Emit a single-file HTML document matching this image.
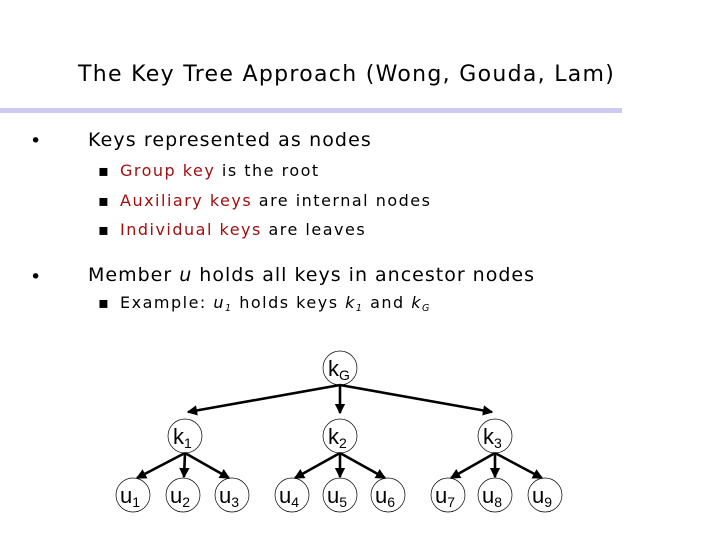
<!DOCTYPE html>
<html><head><meta charset="utf-8"><style>
body{margin:0;width:720px;height:540px;background:#fff;position:relative;overflow:hidden;font-family:"DejaVu Sans","Liberation Sans",sans-serif;color:#000}
.t{position:absolute;white-space:nowrap}
.r{color:#a01010}
sub{font-size:60%;vertical-align:-3px}
</style></head><body>
<div class="t" style="left:78px;top:62px;font-size:22px;letter-spacing:1.3px">The Key Tree Approach (Wong, Gouda, Lam)</div>
<div style="position:absolute;left:0;top:108px;width:622px;height:5px;background:#cacaf2"></div>
<div class="t" style="left:30px;top:130px;font-size:19px">•</div>
<div class="t" style="left:88px;top:129px;font-size:19px;letter-spacing:1.1px">Keys represented as nodes</div>
<div class="t" style="left:98px;top:161px;font-size:16px">▪</div>
<div class="t" style="left:120px;top:161px;font-size:16px;letter-spacing:1.5px"><span class="r">Group key</span> is the root</div>
<div class="t" style="left:98px;top:191px;font-size:16px">▪</div>
<div class="t" style="left:120px;top:191px;font-size:16px;letter-spacing:1.5px"><span class="r">Auxiliary keys</span> are internal nodes</div>
<div class="t" style="left:98px;top:220px;font-size:16px">▪</div>
<div class="t" style="left:120px;top:220px;font-size:16px;letter-spacing:1.5px"><span class="r">Individual keys</span> are leaves</div>
<div class="t" style="left:30px;top:266px;font-size:19px">•</div>
<div class="t" style="left:88px;top:264px;font-size:19px;letter-spacing:1px">Member <i>u</i> holds all keys in ancestor nodes</div>
<div class="t" style="left:98px;top:293px;font-size:16px">▪</div>
<div class="t" style="left:120px;top:293px;font-size:16px;letter-spacing:1.5px">Example: <i>u<sub>1</sub></i> holds keys <i>k<sub>1</sub></i> and <i>k<sub>G</sub></i></div>
<svg width="720" height="540" style="position:absolute;left:0;top:0" font-family="Liberation Sans, Arial, sans-serif">
<defs><marker id="a" markerWidth="4" markerHeight="4" refX="3.5" refY="2" orient="auto" markerUnits="strokeWidth"><path d="M0,0L4,2L0,4z" fill="#000"/></marker></defs>
<g fill="none" stroke="#000" stroke-width="0.7">
<circle cx="340" cy="368" r="17"/>
<circle cx="185" cy="436" r="17"/><circle cx="340" cy="436" r="17"/><circle cx="495" cy="436" r="17"/>
<circle cx="133" cy="495" r="17"/><circle cx="183" cy="495" r="17"/><circle cx="232" cy="495" r="17"/>
<circle cx="292" cy="495" r="17"/><circle cx="340" cy="495" r="17"/><circle cx="388" cy="495" r="17"/>
<circle cx="448" cy="495" r="17"/><circle cx="495" cy="495" r="17"/><circle cx="545" cy="495" r="17"/>
</g>
<g stroke="#000" stroke-width="2.6" marker-end="url(#a)">
<line x1="340" y1="385" x2="188" y2="412"/><line x1="340" y1="385" x2="340" y2="413"/><line x1="340" y1="385" x2="492" y2="412"/>
<line x1="185" y1="453" x2="137" y2="478"/><line x1="185" y1="453" x2="184" y2="477"/><line x1="185" y1="453" x2="229" y2="478"/>
<line x1="340" y1="453" x2="295" y2="478"/><line x1="340" y1="453" x2="340" y2="477"/><line x1="340" y1="453" x2="385" y2="478"/>
<line x1="495" y1="453" x2="451" y2="478"/><line x1="495" y1="453" x2="495" y2="477"/><line x1="495" y1="453" x2="542" y2="478"/>
</g>
<g font-size="22" fill="#000">
<text x="328" y="376">k<tspan font-size="14" dy="4">G</tspan></text>
<text x="173" y="444">k<tspan font-size="14" dy="4">1</tspan></text>
<text x="328" y="444">k<tspan font-size="14" dy="4">2</tspan></text>
<text x="483" y="444">k<tspan font-size="14" dy="4">3</tspan></text>
<text x="120" y="503">u<tspan font-size="14" dy="4">1</tspan></text>
<text x="170" y="503">u<tspan font-size="14" dy="4">2</tspan></text>
<text x="219" y="503">u<tspan font-size="14" dy="4">3</tspan></text>
<text x="279" y="503">u<tspan font-size="14" dy="4">4</tspan></text>
<text x="327" y="503">u<tspan font-size="14" dy="4">5</tspan></text>
<text x="375" y="503">u<tspan font-size="14" dy="4">6</tspan></text>
<text x="435" y="503">u<tspan font-size="14" dy="4">7</tspan></text>
<text x="482" y="503">u<tspan font-size="14" dy="4">8</tspan></text>
<text x="532" y="503">u<tspan font-size="14" dy="4">9</tspan></text>
</g>
</svg>
</body></html>
